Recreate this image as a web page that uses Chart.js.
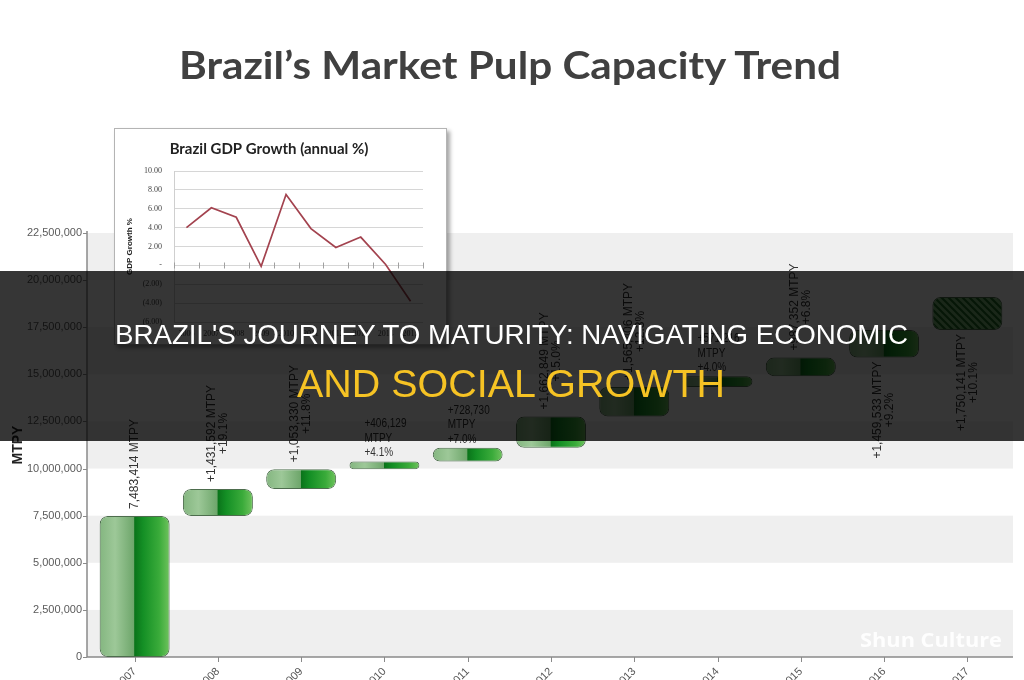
<!DOCTYPE html>
<html>
<head>
<meta charset="utf-8">
<script src="https://cdn.jsdelivr.net/npm/chart.js@4.4.0/dist/chart.umd.min.js"></script>
<style>
html,body{margin:0;padding:0;width:1024px;height:680px;overflow:hidden;background:#fff;}
#mainWrap{position:absolute;left:0;top:0;width:1024px;height:695px;z-index:1;}
.txt{position:absolute;white-space:nowrap;line-height:normal;left:0;top:0;}
#title{font-family:Lato,'Open Sans',sans-serif;font-weight:700;font-size:38px;color:#404040;z-index:2;}
#wm{font-family:'Open Sans',sans-serif;font-weight:700;font-size:20px;color:rgba(255,255,255,0.92);z-index:2;}
#inset{position:absolute;left:114px;top:128px;width:331px;height:215px;background:#fff;border:1px solid #b4b4b4;box-shadow:3px 3px 4px rgba(0,0,0,0.35);z-index:3;}
#banner{position:absolute;left:0;top:271px;width:1024px;height:170px;background:rgba(0,0,0,0.79);z-index:4;}
#line1{font-family:'Liberation Sans',Arial,sans-serif;font-size:27.4px;color:#ffffff;z-index:5;}
#line2{font-family:'Liberation Sans',Arial,sans-serif;font-size:39.3px;color:#f6c324;z-index:5;}
</style>
</head>
<body>
<div id="title" class="txt">Brazil’s Market Pulp Capacity Trend</div>
<div id="mainWrap"><canvas id="main" width="1024" height="695"></canvas></div>
<div id="wm" class="txt">Shun Culture</div>
<div id="inset"><canvas id="gdp" width="331" height="215"></canvas></div>
<div id="banner"></div>
<div id="line1" class="txt">BRAZIL'S JOURNEY TO MATURITY: NAVIGATING ECONOMIC</div>
<div id="line2" class="txt">AND SOCIAL GROWTH</div>
<script>
// ---------- data ----------
const years = ['2007','2008','2009','2010','2011','2012','2013','2014','2015','2016','2017'];
const increments = [7483414, 1431592, 1053330, 406129, 728730, 1662849, 1565406, 571216, 987352, 1459533, 1750141];
const pctLabels = ['', '+19.1%', '+11.8%', '+4.1%', '+7.0%', '+15.0%', '+12.3%', '+4.0%', '+6.8%', '+9.2%', '+10.1%'];
const yStep = 2500000;
const yMax = 22500000;

const gdpYears = ['2006','2007','2008','2009','2010','2011','2012','2013','2014','2015'];
const gdpGrowth = [4.0, 6.1, 5.1, -0.1, 7.5, 3.9, 1.9, 3.0, 0.1, -3.8];

// ---------- helpers ----------
const fmt = v => v.toLocaleString('en-US');
const starts = [], ends = [];
let acc = 0;
increments.forEach(v => { starts.push(acc); acc += v; ends.push(acc); });
const barData = increments.map((v, i) => [starts[i], ends[i]]);

const horizontalLabels = [3, 4, 7];
const belowLabels = [9, 10];
const BAR_PCT = 0.84;

function hatch(ctx){
  const c = document.createElement('canvas'); c.width = 7; c.height = 7;
  const g = c.getContext('2d');
  g.fillStyle = '#7db777'; g.fillRect(0,0,7,7);
  g.strokeStyle = '#1f6a24'; g.lineWidth = 2.2;
  g.beginPath();
  g.moveTo(-1,-1); g.lineTo(8,8);
  g.moveTo(-1,6); g.lineTo(1,8);
  g.moveTo(6,-1); g.lineTo(8,1);
  g.stroke();
  return ctx.createPattern(c, 'repeat');
}

function barFill(c){
  const chart = c.chart, i = c.dataIndex, xs = chart.scales.x;
  if (!xs || !xs.width) return '#2a9a2a';
  if (i === years.length - 1) return hatch(chart.ctx);
  const cx = xs.getPixelForValue(i);
  const w = (xs.width / years.length) * BAR_PCT;
  const g = chart.ctx.createLinearGradient(cx - w/2, 0, cx + w/2, 0);
  g.addColorStop(0, '#84b680');
  g.addColorStop(0.22, '#9dc898');
  g.addColorStop(0.49, '#6ea66b');
  g.addColorStop(0.5, '#0a741a');
  g.addColorStop(0.62, '#148f25');
  g.addColorStop(0.85, '#3aab3a');
  g.addColorStop(1, '#70c35e');
  return g;
}

const framePlugin = {
  id: 'frame',
  beforeDatasetsDraw(chart){
    const {ctx, chartArea: a, scales: {x, y}} = chart;
    const L = 87, R = 1013;
    ctx.save();
    for (let v = 0, k = 0; v < yMax; v += yStep, k++){
      if (k % 2 === 0){
        const y1 = y.getPixelForValue(v), y2 = y.getPixelForValue(v + yStep);
        ctx.fillStyle = '#efefef';
        ctx.fillRect(L, y2, R - L, y1 - y2);
      }
    }
    ctx.strokeStyle = '#8a8a8a'; ctx.lineWidth = 1.5;
    ctx.beginPath();
    ctx.moveTo(L, y.getPixelForValue(yMax) - 2);
    ctx.lineTo(L, a.bottom);
    ctx.lineTo(R, a.bottom);
    ctx.stroke();
    ctx.lineWidth = 1;
    ctx.beginPath();
    for (let v = 0; v <= yMax; v += yStep){
      const py = Math.round(y.getPixelForValue(v)) + 0.5;
      ctx.moveTo(L - 4, py); ctx.lineTo(L, py);
    }
    years.forEach((t, i) => {
      const px = Math.round(x.getPixelForValue(i)) + 0.5;
      ctx.moveTo(px, a.bottom); ctx.lineTo(px, a.bottom + 5);
    });
    ctx.stroke();
    ctx.restore();
  }
};

const labelPlugin = {
  id: 'vlabels',
  afterDatasetsDraw(chart){
    const ctx = chart.ctx;
    const meta = chart.getDatasetMeta(0);
    ctx.save();
    ctx.fillStyle = '#333';
    meta.data.forEach((el, i) => {
      const top = Math.min(el.y, el.base), bottom = Math.max(el.y, el.base);
      const cx = el.x;
      if (horizontalLabels.includes(i)){
        const lines = ['+' + fmt(increments[i]), 'MTPY', pctLabels[i]];
        ctx.save();
        ctx.translate(cx - 20, top - 5);
        ctx.scale(0.8, 1);
        ctx.font = '12.5px "Liberation Sans", Arial, sans-serif';
        ctx.textAlign = 'left'; ctx.textBaseline = 'alphabetic';
        lines.forEach((t, k) => ctx.fillText(t, 0, -(lines.length - 1 - k) * 14.5));
        ctx.restore();
        return;
      }
      const lines = i === 0 ? [fmt(increments[i]) + ' MTPY'] : ['+' + fmt(increments[i]) + ' MTPY', pctLabels[i]];
      ctx.save();
      ctx.font = '12px "Liberation Sans", Arial, sans-serif';
      ctx.textBaseline = 'middle';
      const widths = lines.map(t => ctx.measureText(t).width);
      const maxW = Math.max(...widths);
      const n = lines.length, lh = 12;
      if (belowLabels.includes(i)){
        ctx.translate(cx, bottom + 4);
        ctx.rotate(-Math.PI / 2);
        ctx.textAlign = 'right';
        lines.forEach((t, k) => ctx.fillText(t, -(maxW - widths[k]) / 2, (k - (n - 1) / 2) * lh));
      } else {
        ctx.translate(cx, top - 7);
        ctx.rotate(-Math.PI / 2);
        ctx.textAlign = 'left';
        lines.forEach((t, k) => ctx.fillText(t, (maxW - widths[k]) / 2, (k - (n - 1) / 2) * lh));
      }
      ctx.restore();
    });
    ctx.restore();
  }
};

Chart.defaults.font.family = '"Liberation Sans", Arial, sans-serif';

new Chart(document.getElementById('main'), {
  type: 'bar',
  data: {
    labels: years,
    datasets: [{
      data: barData,
      backgroundColor: barFill,
      borderColor: '#4d6d4d',
      borderWidth: 1,
      borderRadius: 8,
      borderSkipped: false,
      barPercentage: BAR_PCT,
      categoryPercentage: 1
    }]
  },
  options: {
    responsive: false,
    animation: false,
    devicePixelRatio: 1,
    layout: { padding: { left: 0, right: 15, top: 233, bottom: 0 } },
    plugins: { legend: { display: false }, tooltip: { enabled: false } },
    scales: {
      x: {
        grid: { display: false, drawTicks: false },
        border: { display: false },
        ticks: { maxRotation: 45, minRotation: 45, autoSkip: false, padding: 8, color: '#555', font: { size: 11 } },
        afterFit(s){ s.height = 38; }
      },
      y: {
        min: 0, max: yMax,
        grid: { display: false, drawTicks: false },
        border: { display: false },
        ticks: { stepSize: yStep, padding: 11, color: '#5a5a5a', font: { size: 11 }, callback: v => fmt(v) },
        title: { display: true, text: 'MTPY', color: '#222', font: { size: 14, weight: 'bold' }, padding: { top: 10, bottom: 0 } },
        afterFit(s){ s.width = 93; }
      }
    }
  },
  plugins: [framePlugin, labelPlugin]
});

// ---------- inset GDP chart ----------
const zeroTicks = {
  id: 'zeroTicks',
  beforeDatasetsDraw(ch){
    const {ctx, chartArea: a, scales: {y}} = ch;
    const y0 = Math.round(y.getPixelForValue(0)) + 0.5;
    ctx.save();
    ctx.strokeStyle = '#a0a0a0'; ctx.lineWidth = 1;
    ctx.beginPath();
    for (let i = 0; i <= gdpYears.length; i++){
      const px = Math.round(a.left + i * a.width / gdpYears.length) + 0.5;
      ctx.moveTo(px, y0 - 3); ctx.lineTo(px, y0 + 3);
    }
    ctx.stroke();
    ctx.restore();
  }
};

new Chart(document.getElementById('gdp'), {
  type: 'line',
  data: {
    labels: gdpYears,
    datasets: [{ data: gdpGrowth, borderColor: '#a3434f', borderWidth: 1.7, pointRadius: 0, tension: 0, fill: false }]
  },
  options: {
    responsive: false,
    animation: false,
    devicePixelRatio: 1,
    layout: { padding: { left: 0, right: 23, top: 0, bottom: 0 } },
    plugins: {
      legend: { display: false }, tooltip: { enabled: false },
      title: { display: true, text: 'Brazil GDP Growth (annual %)', color: '#222',
               font: { family: 'Lato, "Open Sans", sans-serif', weight: 'bold', size: 15 }, padding: { top: 11, bottom: 13 } }
    },
    scales: {
      x: {
        offset: true,
        grid: { display: false, drawTicks: false },
        border: { display: false },
        ticks: { maxRotation: 0, autoSkip: false, padding: 7, color: '#444', font: { family: '"Liberation Serif", serif', size: 8 } },
        afterFit(s){ s.height = 22; }
      },
      y: {
        min: -6, max: 10,
        grid: { color: '#d6d6d6', drawTicks: false },
        border: { color: '#cfcfcf' },
        ticks: { stepSize: 2, padding: 12, color: '#444', font: { family: '"Liberation Serif", serif', size: 8 },
                 callback: v => v === 0 ? '-' : (v < 0 ? '(' + Math.abs(v).toFixed(2) + ')' : v.toFixed(2)) },
        title: { display: true, text: 'GDP Growth %', color: '#222', font: { size: 8, weight: 'bold' }, padding: { top: 10, bottom: 0 } },
        afterFit(s){ s.width = 59; }
      }
    }
  },
  plugins: [zeroTicks]
});

// ---------- text placement ----------
function placeText(id, baseline, cx, targetW){
  const el = document.getElementById(id);
  const m = document.createElement('span');
  m.style.cssText = 'display:inline-block;width:0;height:0;vertical-align:baseline';
  el.appendChild(m);
  const b = m.offsetTop;
  const w = el.getBoundingClientRect().width;
  const s = targetW / w;
  el.style.transformOrigin = '0 0';
  el.style.transform = 'scaleX(' + s + ')';
  el.style.left = (cx - targetW / 2) + 'px';
  el.style.top = (baseline - b) + 'px';
}
placeText('title', 79, 510, 662);
placeText('wm', 647, 931, 142);
placeText('line1', 343.5, 511.5, 793);
placeText('line2', 397, 511, 428);
</script>
</body>
</html>
